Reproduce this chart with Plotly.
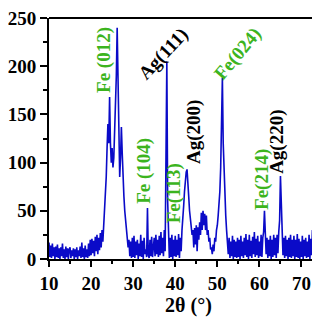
import plotly.graph_objects as go

# 2-theta start/step of the digitised scan (0.2 deg steps)
theta_start = 10.0
theta_step = 0.2

intensity = [
    # 10.0 - 14.8
    17, 2, 14, 1, 16, 3, 12, 0, 13, 2, 15, 1, 11, 0, 12, 3, 16, 1, 10, 0, 13, 2, 11, 0, 10,
    # 15.0 - 19.8
    12, 1, 9, 3, 11, 0, 10, 2, 12, 0, 9, 3, 13, 1, 17, 2, 11, 0, 14, 2, 10, 1, 16, 3, 20,
    # 20.0 - 24.8
    4, 21, 6, 19, 3, 23, 8, 25, 5, 22, 9, 27, 12, 30, 18, 35, 45, 60, 85, 115, 140, 120, 168, 120, 100,
    # 25.0 - 29.8
    115, 95, 105, 130, 165, 190, 240, 180, 110, 85, 105, 137, 110, 80, 65, 50, 38, 30, 22, 12, 20, 3, 18, 1, 22,
    # 30.0 - 34.8
    2, 24, 1, 18, 4, 20, 0, 16, 3, 25, 2, 19, 0, 22, 5, 10, 2, 53, 4, 1, 20, 3, 23, 2, 18,
    # 35.0 - 39.8
    22, 3, 25, 5, 20, 2, 24, 4, 28, 6, 22, 3, 30, 8, 110, 205, 60, 15, 1, 22, 2, 25, 0, 20, 3,
    # 40.0 - 44.8
    24, 2, 20, 4, 26, 1, 22, 8, 30, 40, 55, 70, 85, 90, 93, 82, 65, 50, 40, 32, 25, 30, 12, 32, 15,
    # 45.0 - 49.8
    35, 8, 33, 20, 38, 25, 48, 30, 50, 35, 47, 30, 45, 25, 30, 18, 22, 10, 12, 5, 15, 8, 22, 18, 30,
    # 50.0 - 54.8
    35, 45, 55, 70, 95, 130, 188, 120, 90, 65, 45, 30, 20, 5, 22, 1, 18, 3, 24, 0, 20, 2, 18, 1, 22,
    # 55.0 - 59.8
    2, 20, 0, 24, 3, 18, 1, 22, 4, 26, 2, 20, 0, 25, 3, 19, 1, 23, 5, 28, 2, 21, 4, 24, 1,
    # 60.0 - 64.8
    18, 3, 25, 2, 22, 28, 50, 30, 5, 22, 1, 20, 3, 24, 0, 20, 2, 25, 4, 22, 1, 25, 6, 28, 40,
    # 65.0 - 69.8
    86, 55, 28, 4, 22, 1, 24, 3, 20, 0, 22, 2, 25, 1, 20, 3, 24, 0, 20, 2, 26, 1, 21, 0, 18,
    # 70.0 - 76.0
    2, 24, 0, 20, 3, 22, 1, 18, 2, 25, 0, 21, 4, 30, 3, 22, 0, 26, 2, 20, 1, 23, 0, 19, 2, 24, 1, 20, 3, 22, 1,
]
two_theta = [round(theta_start + i * theta_step, 2) for i in range(len(intensity))]

labels = ["Fe (012)", "Ag(111)", "Fe(024)", "Fe (104)", "Ag(200)", "Fe(113)", "Fe(214)", "Ag(220)", "Ag(311)"]
label_x = [23.2, 37.1, 54.8, 32.7, 44.5, 39.9, 60.6, 64.3, 74.8]
label_y = [206, 213, 213, 91, 132, 68, 83, 121, 60]
label_angle = [-90, -47, -50, -90, -90, -90, -90, -90, -90]
label_color = ["#3cb41e", "black", "#3cb41e", "#3cb41e", "black", "#3cb41e", "#3cb41e", "black", "black"]

x_ticks = [10, 20, 30, 40, 50, 60, 70]
y_ticks = [0, 50, 100, 150, 200, 250]

fig = go.Figure()
fig.add_trace(go.Scatter(x=two_theta, y=intensity, mode="lines",
                         line=dict(color="#0a0ac8", width=1.6), showlegend=False))

for t, x, y, a, c in zip(labels, label_x, label_y, label_angle, label_color):
    fig.add_annotation(x=x, y=y, text="<b>" + t + "</b>", textangle=a, showarrow=False,
                       xanchor="center", yanchor="middle",
                       font=dict(family="Liberation Serif", size=19, color=c))

# top frame line
fig.add_shape(type="line", xref="paper", yref="paper", x0=0, x1=1, y0=1, y1=1,
              line=dict(color="black", width=2))

font = dict(family="Liberation Serif", size=19, color="black")
fig.update_layout(
    width=320, height=320,
    margin=dict(l=35, r=0, t=6, b=69),
    paper_bgcolor="white", plot_bgcolor="white",
    font=font,
    xaxis=dict(range=[10, 76.3], tickvals=x_ticks, ticktext=["<b>%d</b>" % v for v in x_ticks],
               showline=True, linecolor="black", linewidth=2,
               ticks="outside", ticklen=6, tickwidth=2, tickcolor="black",
               minor=dict(ticks="outside", ticklen=3, tickwidth=2, tickcolor="black", dtick=5),
               showgrid=False, zeroline=False, ticklabeloverflow="allow",
               title=dict(text="<b>2θ (°)</b>", font=dict(family="Liberation Serif", size=20, color="black"), standoff=1)),
    yaxis=dict(range=[0, 250], tickvals=y_ticks, ticktext=["<b>%d</b>" % v for v in y_ticks],
               showline=True, linecolor="black", linewidth=2,
               ticks="outside", ticklen=7, tickwidth=2, tickcolor="black",
               minor=dict(ticks="outside", ticklen=4, tickwidth=2, tickcolor="black", dtick=25),
               showgrid=False, zeroline=False, ticklabeloverflow="allow"),
)

fig.write_html("out.html")
